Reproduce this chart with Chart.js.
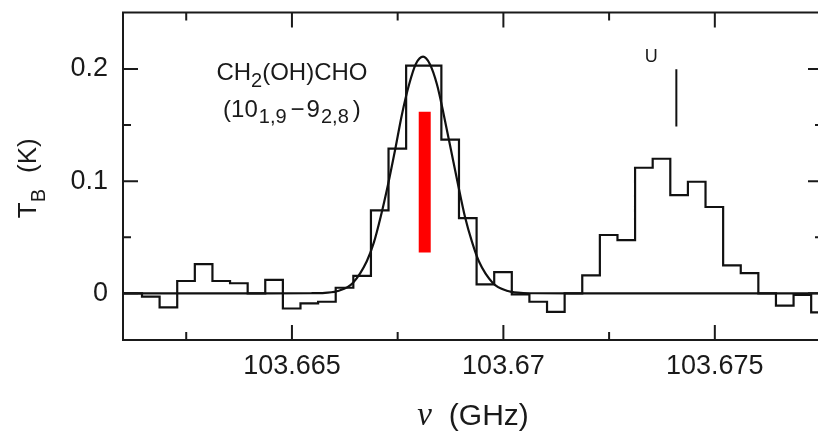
<!DOCTYPE html>
<html>
<head>
<meta charset="utf-8">
<script src="https://cdn.jsdelivr.net/npm/chart.js@4.4.1/dist/chart.umd.min.js"></script>
<style>
  html, body { margin: 0; padding: 0; background: #fff; overflow: hidden; }
  #wrap { width: 826px; height: 433px; }
</style>
</head>
<body>
<div id="wrap"><canvas id="spectrum" width="826" height="433"></canvas></div>
<script>
// observed spectrum: channel centre (GHz) and T_B (K)
const specFreq = [
  103.660830, 103.661246, 103.661662, 103.662079, 103.662495, 103.662912, 103.663328,
  103.663745, 103.664161, 103.664577, 103.664994, 103.665410, 103.665827, 103.666243,
  103.666660, 103.667076, 103.667492, 103.667909, 103.668325, 103.668742, 103.669158,
  103.669575, 103.669991, 103.670407, 103.670824, 103.671240, 103.671657, 103.672073,
  103.672490, 103.672906, 103.673322, 103.673739, 103.674155, 103.674572, 103.674988,
  103.675405, 103.675821, 103.676237, 103.676654, 103.677070, 103.677487, 103.677903
];
const specTb = [
  0.000, 0.000, -0.003, -0.0125, 0.011, 0.026, 0.011,
  0.009, 0.000, 0.012, -0.0135, -0.009, -0.0075, 0.005,
  0.0155, 0.074, 0.129, 0.203, 0.203, 0.137, 0.067,
  0.008, 0.019, -0.001, -0.0075, -0.0165, 0.000, 0.016,
  0.052, 0.0475, 0.112, 0.120, 0.0875, 0.0995, 0.077,
  0.025, 0.018, 0.000, -0.011, -0.0015, -0.017, -0.017
];

// gaussian fit
const fitFreq = [
  103.6600, 103.6645, 103.66545, 103.66578, 103.66611, 103.66644, 103.66677, 103.66694,
  103.66710, 103.66727, 103.66744, 103.66760, 103.66777, 103.66793, 103.66810,
  103.66826, 103.66843, 103.66859, 103.66876, 103.66893, 103.66909, 103.66926,
  103.66942, 103.66975, 103.67008, 103.67041, 103.67074, 103.6720, 103.6790
];
const fitTb = [
  0, 0, 0.0001, 0.0005, 0.0023, 0.0093, 0.0286, 0.0456,
  0.0685, 0.0966, 0.1280, 0.1593, 0.1862, 0.2045, 0.2110,
  0.2045, 0.1862, 0.1593, 0.1280, 0.0966, 0.0685, 0.0456,
  0.0286, 0.0093, 0.0023, 0.0005, 0.0001, 0, 0
];

// predicted transition (red bar) and the unidentified "U" marker
const lineFreq = [103.66814, 103.66814];
const lineTb = [0.0365, 0.162];
const uFreq = [103.67409, 103.67409];
const uTb = [0.1488, 0.1997];

// axes
const xMin = 103.661005, xMax = 103.677558;
const yMin = -0.0416, yMax = 0.2504;
const xTicks = [103.6625, 103.665, 103.6675, 103.67, 103.6725, 103.675, 103.6775];
const xLabelled = [103.665, 103.67, 103.675];
const xLabels = ['103.665', '103.67', '103.675'];
const yTicks = [0, 0.05, 0.1, 0.15, 0.2];
const yLabelled = [0, 0.1, 0.2];
const yLabels = ['0', '0.1', '0.2'];

const ink = '#1a1a1a';
const sans = '"Liberation Sans", Arial, sans-serif';

function pts(xs, ys) { return xs.map((v, i) => ({ x: v, y: ys[i] })); }
function idxOf(list, v) { return list.findIndex(t => Math.abs(t - v) < 1e-7); }

// draws text pieces (some subscripted) centred on cx
function drawRuns(ctx, runs, cx, base) {
  let total = 0;
  runs.forEach(r => { ctx.font = r.font; r.w = ctx.measureText(r.t).width; total += r.w + (r.gap || 0); });
  let x = cx - total / 2;
  ctx.textAlign = 'left';
  ctx.textBaseline = 'alphabetic';
  runs.forEach(r => {
    x += (r.gap || 0);
    ctx.font = r.font;
    ctx.fillText(r.t, x, base + (r.dy || 0));
    x += r.w;
  });
}

const frameAndText = {
  id: 'frameAndText',
  afterDraw(chart) {
    const { ctx, chartArea: a, scales: { x, y } } = chart;
    ctx.save();
    ctx.strokeStyle = ink;
    ctx.fillStyle = ink;
    ctx.lineWidth = 2;
    ctx.strokeRect(a.left, a.top, a.right - a.left, a.bottom - a.top);

    // inward ticks on all four sides
    ctx.beginPath();
    xTicks.forEach(v => {
      const px = x.getPixelForValue(v);
      const len = idxOf(xLabelled, v) >= 0 ? 15 : 8;
      ctx.moveTo(px, a.bottom); ctx.lineTo(px, a.bottom - len);
      ctx.moveTo(px, a.top); ctx.lineTo(px, a.top + len);
    });
    yTicks.forEach(v => {
      const py = y.getPixelForValue(v);
      const len = idxOf(yLabelled, v) >= 0 ? 15 : 8;
      ctx.moveTo(a.left, py); ctx.lineTo(a.left + len, py);
      ctx.moveTo(a.right, py); ctx.lineTo(a.right - len, py);
    });
    ctx.stroke();

    const big = '24px ' + sans, small = '20px ' + sans;
    // molecule label
    const cx = x.getPixelForValue(103.665);
    drawRuns(ctx, [
      { t: 'CH', font: big },
      { t: '2', font: small, dy: 7 },
      { t: '(OH)CHO', font: big }
    ], cx, y.getPixelForValue(0.190));
    drawRuns(ctx, [
      { t: '(10', font: big },
      { t: '1,9', font: small, dy: 6, gap: 1 },
      { t: '\u2212', font: big, gap: 4 },
      { t: '9', font: big, gap: 2 },
      { t: '2,8', font: small, dy: 6, gap: 1 },
      { t: ')', font: big, gap: 4 }
    ], cx, y.getPixelForValue(0.1574));

    // "U" label
    ctx.font = '18px ' + sans;
    ctx.textAlign = 'center';
    ctx.textBaseline = 'middle';
    ctx.fillText('U', x.getPixelForValue(103.673497), y.getPixelForValue(0.2103));

    // x axis title
    drawRuns(ctx, [
      { t: '\u03bd', font: 'italic 33px "Liberation Serif", serif' },
      { t: '(GHz)', font: '30px ' + sans, gap: 17 }
    ], (a.left + a.right) / 2, 425);

    // y axis title, rotated
    ctx.save();
    ctx.translate(36, (a.top + a.bottom) / 2 + 2);
    ctx.rotate(-Math.PI / 2);
    drawRuns(ctx, [
      { t: 'T', font: '26px ' + sans },
      { t: 'B', font: '20px ' + sans, dy: 9 },
      { t: '(K)', font: '26px ' + sans, gap: 16 }
    ], 0, 0);
    ctx.restore();

    ctx.restore();
  }
};

new Chart(document.getElementById('spectrum'), {
  type: 'line',
  data: {
    datasets: [
      {
        label: 'spectrum',
        data: pts(specFreq, specTb),
        stepped: 'middle',
        borderColor: '#111',
        borderWidth: 2.2,
        pointRadius: 0,
        fill: false
      },
      {
        label: 'fit',
        data: pts(fitFreq, fitTb),
        cubicInterpolationMode: 'monotone',
        borderColor: '#111',
        borderWidth: 2.2,
        pointRadius: 0,
        fill: false
      },
      {
        label: 'transition',
        data: pts(lineFreq, lineTb),
        borderColor: '#ff0000',
        borderWidth: 12,
        borderCapStyle: 'butt',
        pointRadius: 0,
        fill: false
      },
      {
        label: 'U',
        data: pts(uFreq, uTb),
        borderColor: '#111',
        borderWidth: 2,
        borderCapStyle: 'butt',
        pointRadius: 0,
        fill: false
      }
    ]
  },
  options: {
    responsive: false,
    animation: false,
    devicePixelRatio: 1,
    layout: { padding: { left: 0, top: 12.5, right: 3, bottom: 0 } },
    plugins: { legend: { display: false }, tooltip: { enabled: false } },
    scales: {
      x: {
        type: 'linear',
        min: xMin,
        max: xMax,
        offset: false,
        grid: { display: false, drawTicks: false },
        border: { display: false },
        afterBuildTicks: s => { s.ticks = xTicks.map(v => ({ value: v })); },
        afterFit: s => { s.height = 93; s.paddingLeft = 0; s.paddingRight = 0; },
        ticks: {
          autoSkip: false,
          maxRotation: 0,
          padding: 10,
          color: ink,
          font: { family: sans, size: 27 },
          callback: v => { const i = idxOf(xLabelled, v); return i >= 0 ? xLabels[i] : ''; }
        }
      },
      y: {
        type: 'linear',
        min: yMin,
        max: yMax,
        grid: { display: false, drawTicks: false },
        border: { display: false },
        afterBuildTicks: s => { s.ticks = yTicks.map(v => ({ value: v })); },
        afterFit: s => { s.width = 123; s.paddingTop = 0; s.paddingBottom = 0; },
        ticks: {
          padding: 15,
          color: ink,
          font: { family: sans, size: 27 },
          callback: v => { const i = idxOf(yLabelled, v); return i >= 0 ? yLabels[i] : ''; }
        }
      }
    }
  },
  plugins: [frameAndText]
});
</script>
</body>
</html>
